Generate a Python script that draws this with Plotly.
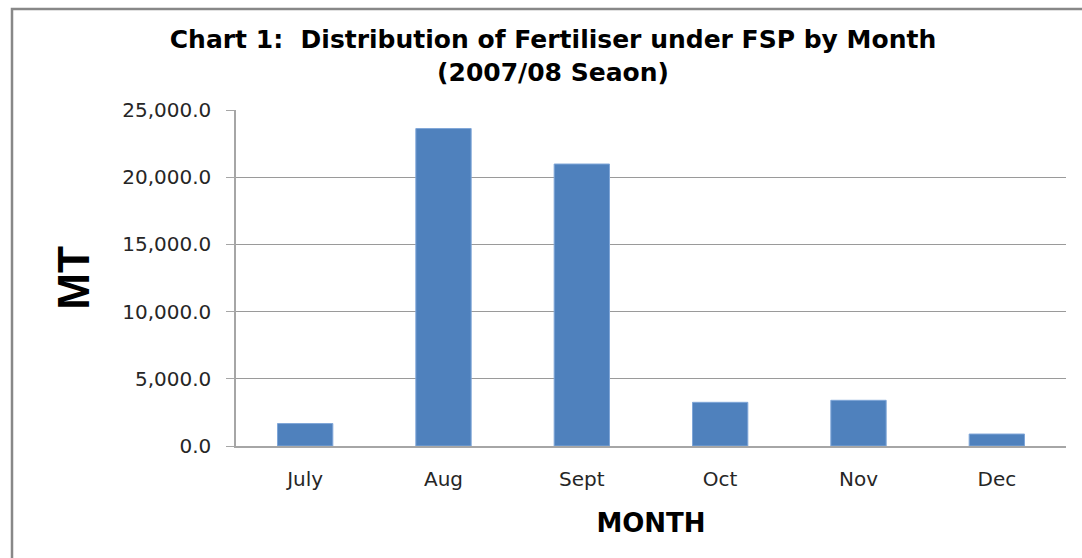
import plotly.graph_objects as go

months = ["July", "Aug", "Sept", "Oct", "Nov", "Dec"]
mt_values = [1670, 23620, 20980, 3250, 3400, 890]
y_ticks = [0, 5000, 10000, 15000, 20000, 25000]
y_tick_labels = ["0.0", "5,000.0", "10,000.0", "15,000.0", "20,000.0", "25,000.0"]

W, H = 1082, 558
L, R, T, B = 236, 16, 110, 112
pw, ph = W - L - R, H - T - B

def px_to_paper_x(px):
    return (px - L) / pw

def px_to_paper_y(py):
    return (H - B - py) / ph

fig = go.Figure(
    go.Bar(
        x=months,
        y=mt_values,
        marker=dict(color="#4F81BD", line=dict(color="#7FA6D8", width=1)),
        width=0.4,
    )
)

tick_font = dict(family="DejaVu Sans", size=20, color="#262626")

fig.update_layout(
    width=W,
    height=H,
    margin=dict(l=L, r=R, t=T, b=B, autoexpand=False),
    paper_bgcolor="white",
    plot_bgcolor="white",
    showlegend=False,
    title=dict(
        text="Chart 1:  Distribution of Fertiliser under FSP by Month<br>(2007/08 Seaon)",
        font=dict(family="DejaVu Sans", size=25, color="#000000", weight="bold"),
        x=553 / W,
        xanchor="center",
        y=1 - 48 / H,
        yanchor="middle",
    ),
    font=dict(family="DejaVu Sans", color="#262626"),
)

fig.update_xaxes(
    showline=True,
    linecolor="#A6A6A6",
    linewidth=1.5,
    ticks="",
    tickfont=tick_font,
    ticklabelstandoff=14,
    title=dict(
        text="MONTH",
        font=dict(family="DejaVu Sans", size=26, color="#000000", weight="bold"),
        standoff=24,
    ),
)

fig.update_yaxes(
    range=[0, 25000],
    tickvals=y_ticks,
    ticktext=y_tick_labels,
    showgrid=True,
    gridcolor="#9A9A9A",
    gridwidth=1,
    showline=True,
    linecolor="#A6A6A6",
    linewidth=1.5,
    ticks="outside",
    ticklen=8,
    tickcolor="#A6A6A6",
    tickfont=tick_font,
    ticklabelstandoff=11,
    zeroline=False,
    title=dict(
        text="MT",
        font=dict(family="Liberation Sans", size=44, color="#000000", weight="bold"),
        standoff=19,
    ),
)

fig.add_shape(
    type="rect",
    xref="paper",
    yref="paper",
    x0=px_to_paper_x(12),
    y0=px_to_paper_y(H + 20),
    x1=px_to_paper_x(W + 20),
    y1=px_to_paper_y(9),
    line=dict(color="#888888", width=2.5),
    fillcolor="rgba(0,0,0,0)",
    layer="below",
)

fig.write_html(
    "out.html",
    config={"displayModeBar": False},
    post_script="document.body.style.margin='0';document.body.style.overflow='hidden';",
)
